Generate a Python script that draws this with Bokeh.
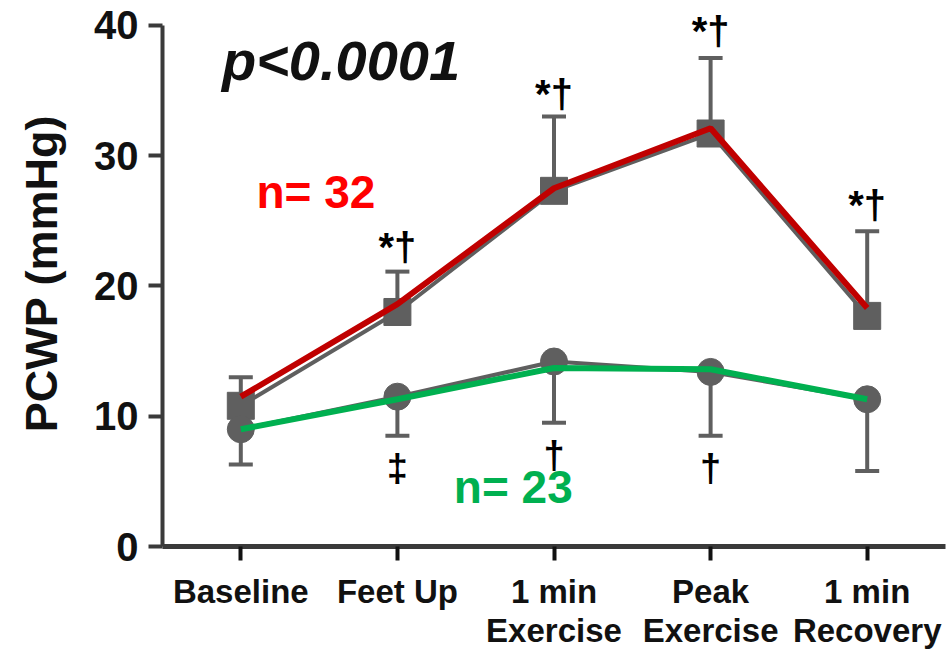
from bokeh.plotting import figure
from bokeh.models import ColumnDataSource, Range1d, FixedTicker
from bokeh.core.properties import value
from bokeh.embed import file_html
from bokeh.resources import INLINE

categories = ["Baseline", "Feet Up", "1 min\nExercise", "Peak\nExercise", "1 min\nRecovery"]
yticks = [0, 10, 20, 30, 40]

# n = 32 group (squares), upper SD only
high_mean = [10.8, 18.0, 27.3, 31.7, 17.7]
high_upper = [13.0, 21.1, 33.0, 37.5, 24.2]
high_overlay = [11.5, 18.6, 27.5, 32.1, 18.3]
high_marks = ["", "*†", "*†", "*†", "*†"]
high_mark_y = [0, 23.0, 34.7, 39.6, 26.2]

# n = 23 group (circles), lower SD only
low_mean = [9.0, 11.5, 14.2, 13.4, 11.3]
low_lower = [6.3, 8.5, 9.5, 8.5, 5.8]
low_overlay = [9.0, 11.3, 13.7, 13.6, 11.3]
low_marks = ["", "‡", "†", "†", ""]
low_mark_y = [0, 6.0, 7.0, 6.0, 0]

x = list(range(len(categories)))
FONT = "Liberation Sans"
GRAY = "#5f5f5f"
AXIS = "#3a3a3a"

p = figure(width=952, height=652, output_backend="svg", toolbar_location=None,
           x_range=Range1d(-0.5, 4.5), y_range=Range1d(0, 41.91),
           min_border_left=162, min_border_right=7, min_border_top=0, min_border_bottom=104)
p.outline_line_color = None
p.xgrid.visible = False
p.ygrid.visible = False
p.background_fill_color = "white"
p.border_fill_color = "white"

# gray connecting lines
p.line(x, high_mean, line_color=GRAY, line_width=4)
p.line(x, low_mean, line_color=GRAY, line_width=4)

# error bars
p.segment(x, high_mean, x, high_upper, line_color=GRAY, line_width=4)
p.scatter(x, high_upper, marker="dash", size=24, line_color=GRAY, line_width=4)
p.segment(x, low_mean, x, low_lower, line_color=GRAY, line_width=4)
p.scatter(x, low_lower, marker="dash", size=24, line_color=GRAY, line_width=4)

# markers
p.scatter(x, high_mean, marker="square", size=27, fill_color=GRAY, line_color=GRAY)
p.scatter(x, low_mean, marker="circle", size=27, fill_color=GRAY, line_color=GRAY)

# coloured overlays
p.line(x, high_overlay, line_color="#c00000", line_width=6)
p.line(x, low_overlay, line_color="#00b050", line_width=6)

# significance marks
hs = ColumnDataSource(dict(x=x[1:], y=high_mark_y[1:], t=high_marks[1:]))
p.text("x", "y", text="t", source=hs, text_font=value(FONT), text_font_style="bold",
       text_font_size="40px", text_align="center", text_baseline="middle", text_color="black")
ls = ColumnDataSource(dict(x=x[1:4], y=low_mark_y[1:4], t=low_marks[1:4]))
p.text("x", "y", text="t", source=ls, text_font=value(FONT), text_font_style="bold",
       text_font_size="38px", text_align="center", text_baseline="middle", text_color="black")

# labels
p.text([0.64], [37.3], text=["p<0.0001"], text_font=value(FONT), text_font_style="bold italic",
       text_font_size="56px", text_align="center", text_baseline="middle", text_color="#111111")
p.text([0.48], [27.2], text=["n= 32"], text_font=value(FONT), text_font_style="bold",
       text_font_size="46px", text_align="center", text_baseline="middle", text_color="#ff0000")
p.text([1.74], [4.6], text=["n= 23"], text_font=value(FONT), text_font_style="bold",
       text_font_size="46px", text_align="center", text_baseline="middle", text_color="#00b050")

# axes
p.xaxis.ticker = FixedTicker(ticks=x)
p.xaxis.major_label_overrides = {i: c for i, c in zip(x, categories)}
p.xaxis.major_label_text_font = FONT
p.xaxis.major_label_text_font_style = "bold"
p.xaxis.major_label_text_font_size = "33px"
p.xaxis.major_label_text_line_height = 1.08
p.xaxis.major_label_text_color = "#111111"
p.xaxis.major_label_standoff = 12
p.xaxis.axis_line_width = 5
p.xaxis.axis_line_color = AXIS
p.xaxis.major_tick_line_width = 4
p.xaxis.major_tick_line_color = "#111111"
p.xaxis.major_tick_out = 14
p.xaxis.major_tick_in = 0
p.xaxis.minor_tick_line_color = None

p.yaxis.ticker = FixedTicker(ticks=yticks)
p.yaxis.bounds = (0, 40)
p.yaxis.major_label_text_font = FONT
p.yaxis.major_label_text_font_style = "bold"
p.yaxis.major_label_text_font_size = "40px"
p.yaxis.major_label_text_color = "#111111"
p.yaxis.major_label_standoff = 10
p.yaxis.axis_line_width = 4
p.yaxis.axis_line_color = AXIS
p.yaxis.major_tick_line_width = 4
p.yaxis.major_tick_line_color = AXIS
p.yaxis.major_tick_out = 14
p.yaxis.major_tick_in = 0
p.yaxis.minor_tick_line_color = None
p.yaxis.axis_label = "PCWP (mmHg)"
p.yaxis.axis_label_text_font = FONT
p.yaxis.axis_label_text_font_style = "bold"
p.yaxis.axis_label_text_font_size = "45px"
p.yaxis.axis_label_text_color = "#111111"
p.yaxis.axis_label_standoff = 24

open("out.html", "w").write(file_html(p, INLINE))
